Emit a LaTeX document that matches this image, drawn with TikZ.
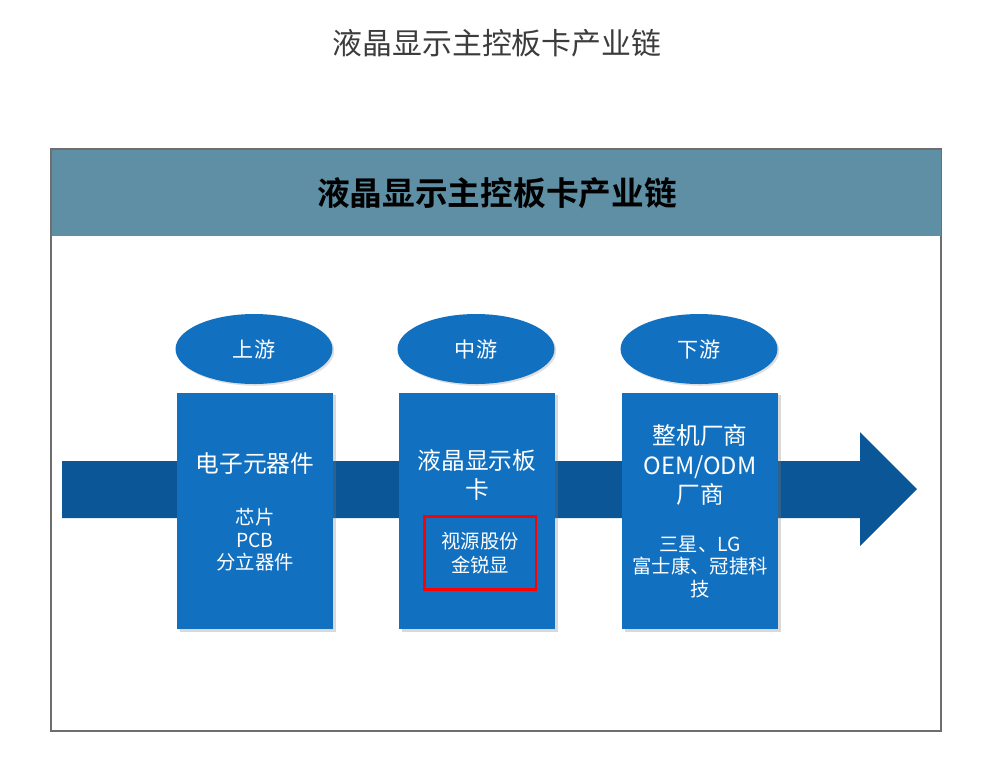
\documentclass[tikz,border=0pt]{standalone}
\usepackage{fontspec}
\setmainfont{Noto Sans CJK SC}[BoldFont={Noto Sans CJK SC Bold}]
\usetikzlibrary{positioning,shadows,shapes.geometric}
\definecolor{headblue}{RGB}{94,143,165}
\definecolor{boxblue}{RGB}{18,112,192}
\definecolor{bandblue}{RGB}{10,86,150}
\definecolor{framegrey}{RGB}{110,110,110}
\definecolor{titlegrey}{RGB}{60,60,60}

\begin{document}
\begin{tikzpicture}[x=0.02cm, y=-0.02cm,
    stage/.style={ellipse, fill=boxblue, minimum width=3.14cm, minimum height=1.4cm, text=white, font=\fontsize{12}{14}\selectfont,
        drop shadow={shadow xshift=1pt, shadow yshift=-1pt, opacity=0.25}},
    card/.style={rectangle, fill=boxblue, minimum width=3.12cm, minimum height=4.74cm,
        drop shadow={shadow xshift=1.5pt, shadow yshift=-1.5pt, opacity=0.3}},
    bigtext/.style={text=white, align=center, font=\fontsize{13.5}{16.8}\selectfont},
    smalltext/.style={text=white, align=center, font=\fontsize{11}{12.8}\selectfont}
]
\useasboundingbox (0,0) rectangle (990,772);

\node[text=titlegrey, font=\fontsize{17}{20}\selectfont] (pagetitle) at (497,43) {液晶显示主控板卡产业链};

% frame and header band
\draw[framegrey, line width=0.6pt] (51,149) rectangle (941,731);
\fill[headblue] (51.5,149.5) rectangle (940.5,236);
\node[font=\bfseries\fontsize{18.6}{21}\selectfont] (headtitle) at (497,193) {液晶显示主控板卡产业链};

% flow arrow behind the cards
\fill[bandblue] (62,461) -- (860,461) -- (860,432) -- (917,489) -- (860,546) -- (860,518) -- (62,518) -- cycle;

% stages
\node[stage] (up) at (254,349) {上游};
\node[stage] (mid) at (476,349) {中游};
\node[stage] (down) at (699,349) {下游};

\node[card] (upcard) at (255,511) {};
\node[card] (midcard) at (477,511) {};
\node[card] (downcard) at (700,511) {};

% upstream
\node[bigtext] (upname) at (255,463) {电子元器件};
\node[smalltext] (upitems) at (255,540) {芯片\\PCB\\分立器件};

% midstream
\node[bigtext] (midname) at (477,475) {液晶显示板\\卡};
\node[smalltext, draw=red, line width=1.7pt, minimum width=2.24cm, minimum height=1.46cm,
    font=\fontsize{11}{14}\selectfont] (miditems) at (480,553) {视源股份\\金锐显};

% downstream
\node[bigtext] (downname) at (700,465) {整机厂商\\OEM/ODM\\厂商};
\node[smalltext] (downitems) at (700,567) {三星、LG\\富士康、冠捷科\\技};
\end{tikzpicture}
\end{document}
